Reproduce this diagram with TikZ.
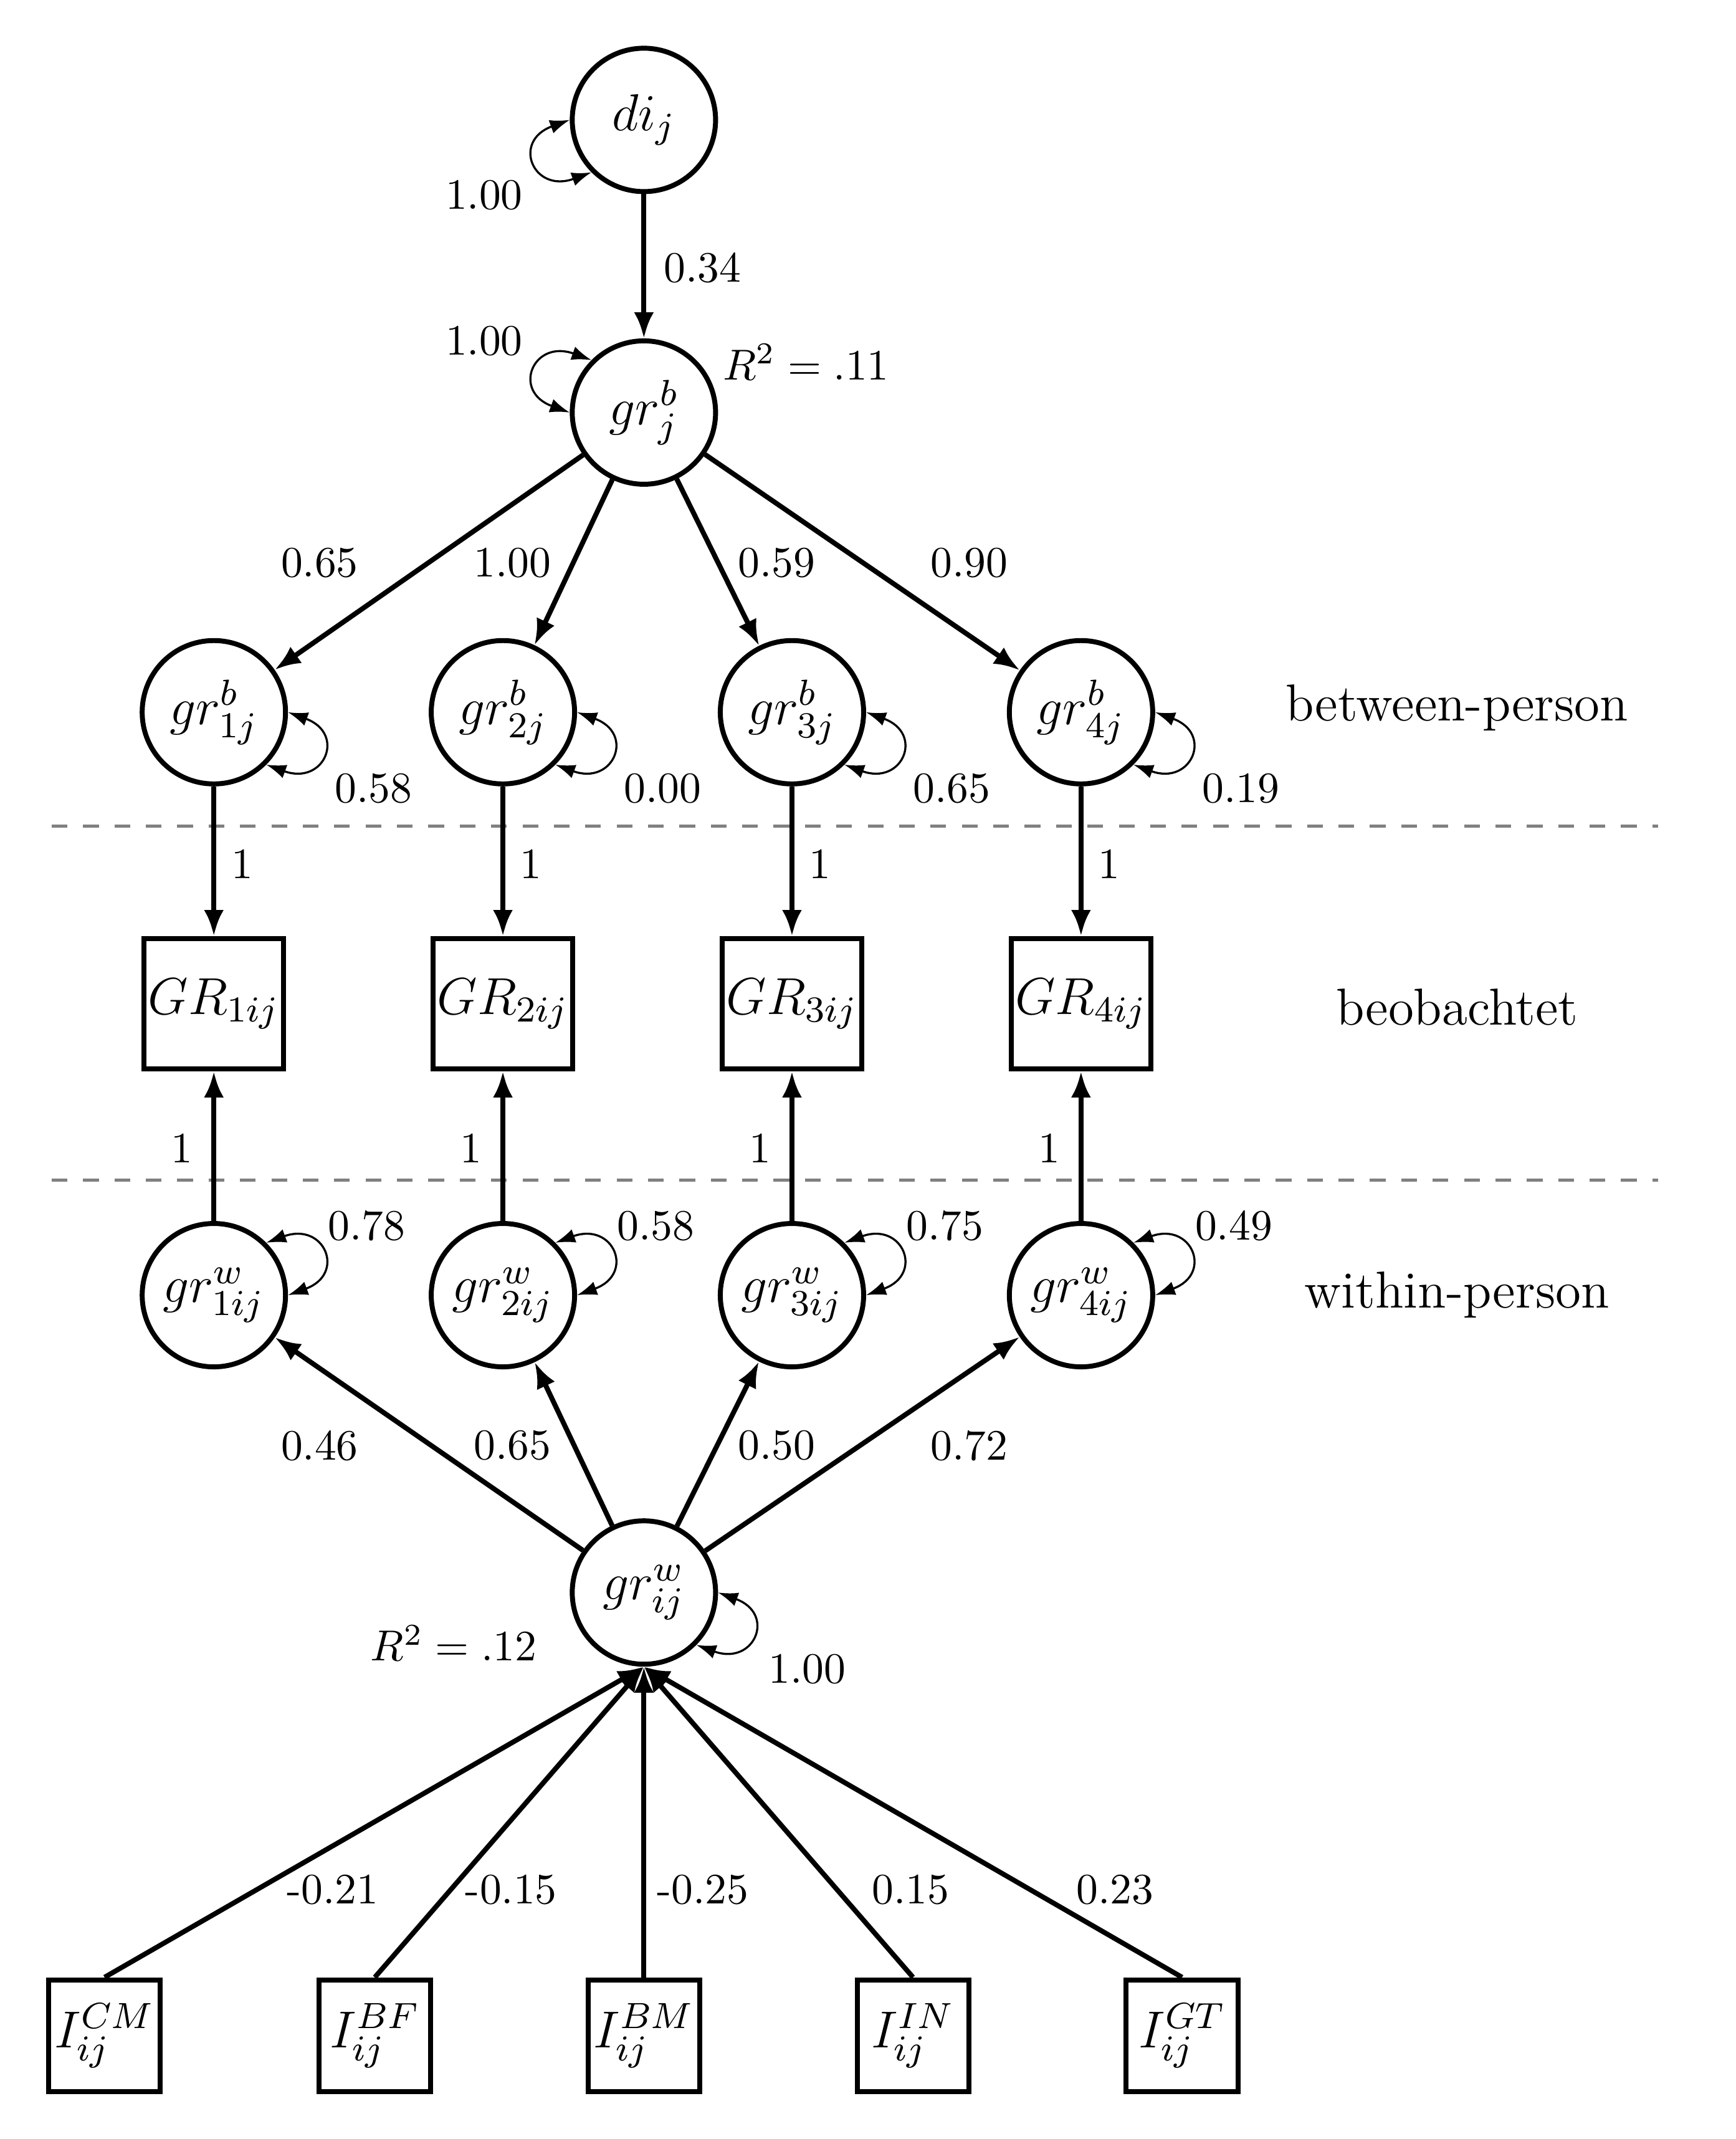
\RequirePackage{fix-cm}
\documentclass[tikz,border=0pt]{standalone}
\usepackage{amsmath}
\usetikzlibrary{arrows.meta}

\begin{document}
\begin{tikzpicture}[
  lat/.style={circle, draw, very thick, minimum size=1.22cm, inner sep=0pt, font=\fontsize{12.6}{15}\selectfont},
  obs/.style={rectangle, draw, very thick, minimum width=1.13cm, minimum height=1.11cm, inner sep=1pt, font=\fontsize{12.6}{15}\selectfont},
  ind/.style={rectangle, draw, very thick, minimum size=0.95cm, inner sep=1pt, font=\fontsize{12.6}{15}\selectfont},
  arr/.style={very thick, -{Latex[length=6.3pt, width=4.8pt]}},
  resvar/.style={line width=0.5pt, {Latex[length=4.8pt, width=3.4pt]}-{Latex[length=4.8pt, width=3.4pt]}, looseness=2.8},
  lbl/.style={font=\fontsize{10.5}{12.6}\selectfont, inner sep=0pt},
  side/.style={font=\fontsize{12.6}{15}\selectfont, inner sep=0pt}
]
  \useasboundingbox (0,0) rectangle (14.77,-18.20);

  % Level separators
  \draw[gray, thick, dash pattern=on 3.8pt off 3.8pt] (0.44,-7.03) -- (14.11,-7.03);
  \draw[gray, thick, dash pattern=on 3.8pt off 3.8pt] (0.44,-10.04) -- (14.11,-10.04);

  % Between-person part
  \node[lat] (di) at (5.48,-1.02) {$di_j$};
  \node[lat] (grb) at (5.48,-3.51) {$gr^b_j$};
  \draw[arr] (di) -- (grb);
  \draw[resvar] (di.180) to[out=200, in=200] (di.225);
  \draw[resvar] (grb.180) to[out=160, in=160] (grb.135);
  \node[lbl] (v-di) at (4.12,-1.66) {1.00};
  \node[lbl] (b-di) at (5.98,-2.28) {0.34};
  \node[lbl] (v-grb) at (4.12,-2.90) {1.00};
  \node[lbl] (r2-grb) at (6.86,-3.08) {$R^2 = .11$};

  % Within-person factor
  \node[lat] (grw) at (5.48,-13.55) {$gr^w_{ij}$};
  \draw[resvar] (grw.0) to[out=-20, in=-20] (grw.-45);
  \node[lbl] (r2-grw) at (3.86,-13.98) {$R^2 = .12$};
  \node[lbl] (v-grw) at (6.87,-14.20) {1.00};

  % Item columns
  \foreach \i/\x/\lx/\lam/\vb/\vw/\bw in {
    1/1.82/2.72/0.65/0.58/0.78/0.46,
    2/4.28/4.36/1.00/0.00/0.58/0.65,
    3/6.74/6.61/0.59/0.65/0.75/0.50,
    4/9.20/8.25/0.90/0.19/0.49/0.72
  } {
    \node[lat] (grb\i) at (\x,-6.06) {$gr^b_{\i j}$};
    \node[obs] (GR\i) at (\x,-8.54) {$GR_{\i ij}$};
    \node[lat] (grw\i) at (\x,-11.02) {$gr^w_{\i ij}$};
    \draw[arr] (grb) -- (grb\i);
    \draw[arr] (grb\i) -- (GR\i);
    \draw[arr] (grw\i) -- (GR\i);
    \draw[arr] (grw) -- (grw\i);
    \draw[resvar] (grb\i.0) to[out=-20, in=-20] (grb\i.-45);
    \draw[resvar] (grw\i.0) to[out=20, in=20] (grw\i.45);
    \node[lbl] (lb\i) at (\lx,-4.79) {\lam};
    \node[lbl] (vb\i) at (\x+1.36,-6.71) {\vb};
    \node[lbl] (fb\i) at (\x+0.24,-7.35) {1};
    \node[lbl] (fw\i) at (\x-0.27,-9.77) {1};
    \node[lbl] (vw\i) at (\x+1.30,-10.43) {\vw};
    \node[lbl] (lw\i) at (\lx,-12.30) {\bw};
  }

  % Predictors
  \foreach \i/\x/\lx/\lab/\val in {
    1/0.89/2.83/CM/-0.21,
    2/3.19/4.35/BF/-0.15,
    3/5.48/5.98/BM/-0.25,
    4/7.77/7.75/IN/0.15,
    5/10.06/9.49/GT/0.23
  } {
    \node[ind] (I\i) at (\x,-17.32) {$I_{ij}^{\lab}$};
    \draw[arr] (I\i.north) -- (grw.south);
    \node[lbl] (g\i) at (\lx,-16.08) {\val};
  }

  % Level names
  \node[side] (between) at (12.40,-6.02) {between-person};
  \node[side] (observed) at (12.40,-8.57) {beobachtet};
  \node[side] (within) at (12.40,-11.02) {within-person};

\end{tikzpicture}
\end{document}
